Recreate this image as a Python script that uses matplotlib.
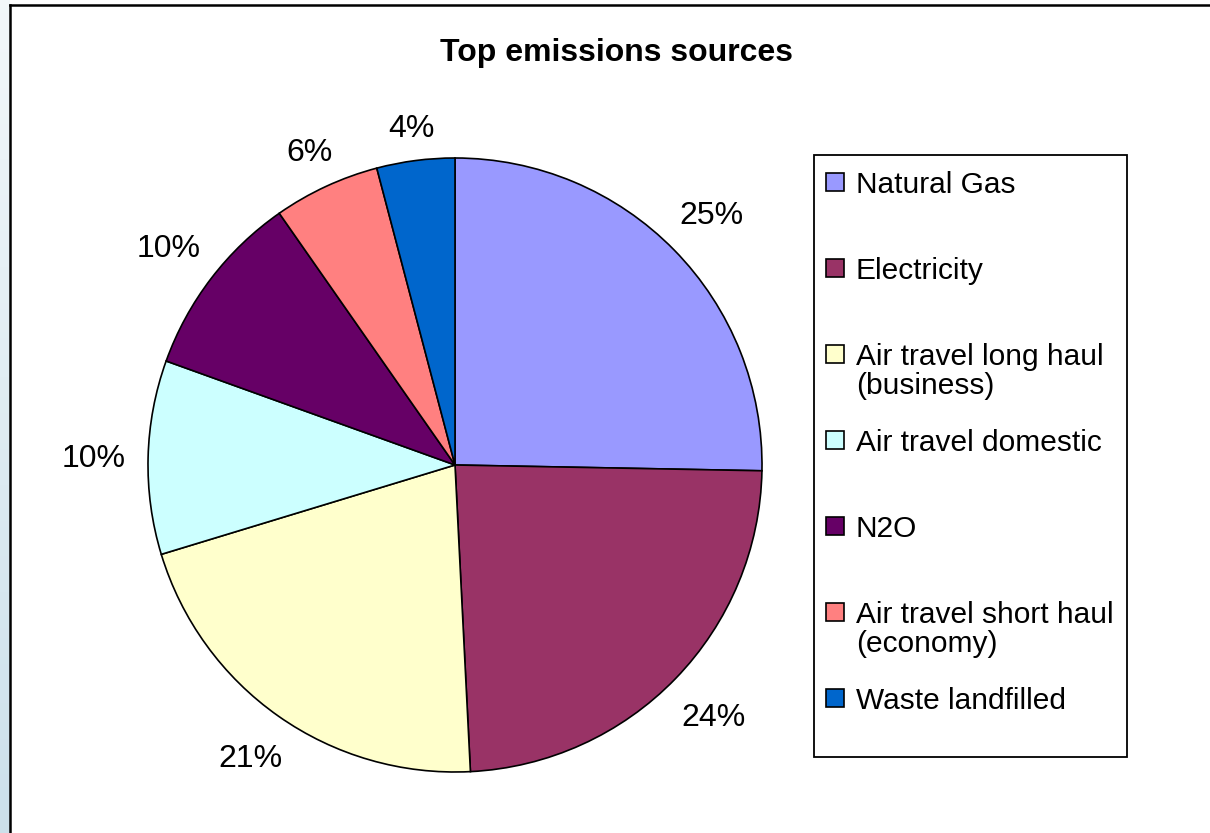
import numpy as np
import matplotlib
matplotlib.use('Agg')
import matplotlib.pyplot as plt
from matplotlib.patches import Rectangle
from matplotlib.lines import Line2D

#================================== Data =================================================================

labels = ['Natural Gas', 'Electricity', 'Air travel long haul\n(business)', 'Air travel domestic',
          'N2O', 'Air travel short haul\n(economy)', 'Waste landfilled']
shares = [25.3, 23.9, 21.1, 10.2, 9.8, 5.6, 4.1]
colors = ['#9999FF', '#993366', '#FFFFCC', '#CCFFFF', '#660066', '#FF8080', '#0066CC']
title = 'Top emissions sources'

#================================== Layout =================================================================

W, H = 1210, 833
plt.rcParams['font.family'] = ['Liberation Sans', 'DejaVu Sans']

def px(x, y):
    # pixel position (from top-left) -> figure fraction
    return x / W, 1 - y / H

fig = plt.figure(figsize=(W / 100, H / 100), dpi=100)
fig.patch.set_facecolor('white')

# light blue strip at the left edge
gax = fig.add_axes([0, 0, 10 / W, 1])
grad = np.linspace(0, 1, 256)[:, None]
top_c = np.array([0.95, 0.97, 0.98])
bot_c = np.array([0.80, 0.88, 0.92])
img = top_c[None, None, :] * (1 - grad[:, :, None]) + bot_c[None, None, :] * grad[:, :, None]
gax.imshow(img, aspect='auto', extent=[0, 1, 0, 1])
gax.axis('off')

# outer frame (top and left lines)
x0, y0 = px(10, 5)
fig.add_artist(Line2D([x0, 1.0], [y0, y0], color='black', lw=1.8, transform=fig.transFigure))
fig.add_artist(Line2D([x0, x0], [y0, 0.0], color='black', lw=1.8, transform=fig.transFigure))

# pie
cx, cy, R = 455, 465, 307
ax = fig.add_axes([(cx - R) / W, (H - cy - R) / H, 2 * R / W, 2 * R / H])
wedges, texts, autotexts = ax.pie(shares, colors=colors, startangle=90, counterclock=False,
                                  autopct='%.0f%%', pctdistance=1.17,
                                  wedgeprops=dict(edgecolor='black', linewidth=1.2),
                                  textprops=dict(fontsize=23, color='black'))
ax.set_xlim(-1, 1)
ax.set_ylim(-1, 1)
ax.axis('off')

# Excel puts the label box a fixed gap outside the rim
gap, hh = 21, 11
for w, t in zip(wedges, autotexts):
    th = np.deg2rad((w.theta1 + w.theta2) / 2)
    hw = 11 * len(t.get_text())
    d = (R + gap + abs(np.cos(th)) * hw + abs(np.sin(th)) * hh) / R
    t.set_position((d * np.cos(th), d * np.sin(th) - hh / R))
    t.set_ha('center')
    t.set_va('baseline')

fig.text(*px(617, 61), title, ha='center', va='baseline', fontsize=23, fontweight='bold')

# legend box drawn by hand (Excel style)
lx0, ly0 = px(814, 757)
lx1, ly1 = px(1127, 155)
fig.add_artist(Rectangle((lx0, ly0), lx1 - lx0, ly1 - ly0, transform=fig.transFigure,
                         facecolor='white', edgecolor='black', lw=1.3))
pitch = 86
for i, (lab, col) in enumerate(zip(labels, colors)):
    yc = 182 + i * pitch
    sx, sy = px(826, yc + 9)
    fig.add_artist(Rectangle((sx, sy), 18 / W, 18 / H, transform=fig.transFigure,
                             facecolor=col, edgecolor='black', lw=1.2))
    nl = lab.count('\n')
    fig.text(*px(856, yc + 11 + nl * 29), lab, ha='left', va='baseline', fontsize=21.5,
             linespacing=1.05)

fig.savefig('out.png', dpi=100)
plt.close()
